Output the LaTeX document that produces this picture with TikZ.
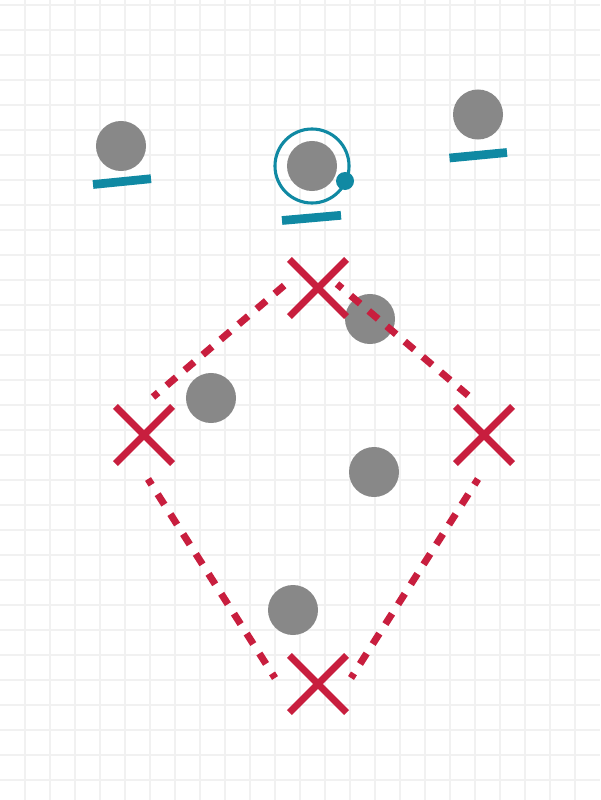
\documentclass[tikz,border=0pt]{standalone}
\usepackage{tikz}
\usetikzlibrary{shapes.misc}

\definecolor{botgray}{RGB}{136,136,136}
\definecolor{beaconteal}{RGB}{16,137,163}
\definecolor{markred}{RGB}{200,30,62}
\definecolor{gridlight}{RGB}{241,241,241}

\tikzset{
    bot/.style={circle, fill=botgray, inner sep=0pt, minimum size=1.25cm},
    target/.style={cross out, draw=markred, line width=5pt, inner sep=0pt, minimum size=1.25cm},
    trail/.style={draw=markred, line width=5pt, dash pattern=on 8.8pt off 8pt, dash phase=4pt},
    base/.style={draw=beaconteal, line width=6.2pt},
}

\begin{document}
\begin{tikzpicture}[x=0.025cm, y=-0.025cm]
    \useasboundingbox (0,0) rectangle (600,800);
    \fill[white] (0,0) rectangle (600,800);

    % Grid
    \foreach \x in {25,50,...,575}
        \draw[gridlight, line width=0.9pt] (\x,0) -- (\x,800);
    \foreach \y in {5,30,...,780}
        \draw[gridlight, line width=0.9pt] (0,\y) -- (600,\y);
    \foreach \y in {80,180,...,780}
        \draw[gridlight, line width=1.5pt] (0,\y) -- (600,\y);

    % Robots on their bases
    \node[bot] (botA) at (121,146) {};
    \draw[base] (93,184.5) -- (151,178.7);
    \node[bot] (botB) at (312,166) {};
    \draw[base] (282,220.5) -- (341,215.3);
    \node[bot] (botC) at (478,114.5) {};
    \draw[base] (449.5,158) -- (507,152.5);

    % Selected robot
    \draw[beaconteal, line width=2.2pt] (botB) circle[radius=0.925cm];
    \fill[beaconteal] (345,181) circle[radius=0.225cm];

    % Robots in the field
    \node[bot] (botD) at (211,398) {};
    \node[bot] (botE) at (370,319) {};
    \node[bot] (botF) at (374,472) {};
    \node[bot] (botG) at (293,610) {};

    % Trail between targets
    \draw[trail] (153,397) -- (286,284);
    \draw[trail] (337,284) -- (470,397);
    \draw[trail] (148,479) -- (275,678);
    \draw[trail] (478,479) -- (351,678);

    % Targets
    \node[target] (tgtN) at (318,288) {};
    \node[target] (tgtW) at (144,435) {};
    \node[target] (tgtE) at (484,435) {};
    \node[target] (tgtS) at (318,684) {};
\end{tikzpicture}
\end{document}
